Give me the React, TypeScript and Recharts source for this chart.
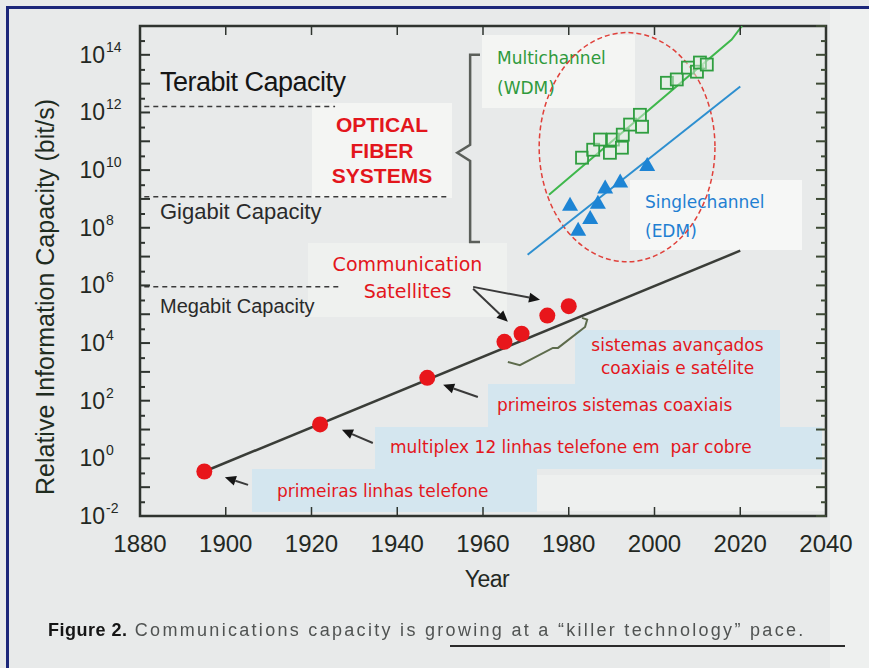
import React from 'react'
import {
  ComposedChart, XAxis, YAxis, Line, Scatter, ReferenceLine, ReferenceArea,
} from 'recharts'

// plot frame (chart coords)
const W = 869
const H = 668
const PLOT_LEFT = 140
const PLOT_RIGHT = 826
const PLOT_TOP = 26
const PLOT_BOTTOM = 516

const AXIS_COLOR = '#2f342f'
const TEXT_DARK = '#232823'
const RED = '#e3161c'
const GREEN_TXT = '#2f9a3c'
const BLUE_TXT = '#1f7fd2'
const SANS = '"Liberation Sans", Arial, sans-serif'
const ROUND = '"DejaVu Sans", Verdana, sans-serif'

const yearTicks = [1880, 1900, 1920, 1940, 1960, 1980, 2000, 2020, 2040]
const capacityTicks = [
  0.01, 0.03, 0.1, 0.3, 1, 3, 10, 30, 1e2, 3e2, 1e3, 3e3, 1e4, 3e4, 1e5, 3e5,
  1e6, 3e6, 1e7, 3e7, 1e8, 3e8, 1e9, 3e9, 1e10, 3e10, 1e11, 3e11, 1e12, 3e12,
  1e13, 3e13, 1e14, 3e14, 1e15,
]

// copper / coax / satellite systems (red dots)
const copperYears = [1895, 1922, 1947, 1965, 1969, 1975, 1980]
const copperCapacity = [0.35, 15, 620, 1.1e4, 2.1e4, 9e4, 1.9e5]
const copperTrendYears = [1895, 2020]
const copperTrendCapacity = [0.35, 1.6e7]

// single channel fiber (EDM)
const edmYears = [1980.3, 1982.2, 1985, 1986.8, 1988.5, 1992, 1998.3]
const edmCapacity = [6.3e8, 8.5e7, 2.2e8, 7.4e8, 2.5e9, 4e9, 1.5e10]
const edmTrendYears = [1970.4, 2020]
const edmTrendCapacity = [1.15e7, 8e12]

// multichannel fiber (WDM)
const wdmYears = [1983.1, 1985.7, 1987.3, 1989.6, 1990.3, 1992.4, 1992.6, 1994.3, 1996.6, 1997.1, 2002.9, 2005.2, 2007.8, 2009.9, 2010.6, 2012.2]
const wdmCapacity = [2.7e10, 5.1e10, 1.15e11, 4e10, 1.15e11, 6e10, 1.7e11, 3.8e11, 8.3e11, 3.2e11, 1.07e13, 1.4e13, 3.6e13, 2.6e13, 5.4e13, 4.6e13]
const wdmTrendYears = [1975.4, 2018, 2020.4]
const wdmTrendCapacity = [1.4e9, 3.4e14, 1e15]

// capacity thresholds (dashed)
const thresholdNames = ['Terabit', 'Gigabit', 'Megabit']
const thresholdLevels = [1.6e12, 1.2e9, 9e5]
const thresholdEnds = [1925.5, 1951.5, 1926.5]

// annotation arrows: tail -> tip
const arrowTailYears = [1905.2, 1934.3, 1958.8, 1957.7, 1957.7]
const arrowTailCapacity = [0.12, 3.4, 135, 8.9e5, 7.6e5]
const arrowTipYears = [1899.8, 1927.1, 1950.7, 1973.3, 1965.8]
const arrowTipCapacity = [0.22, 9.8, 355, 3.2e5, 5.5e4]

// "{" bracket for optical fiber systems
const braceYears = [1959.3, 1957, 1957, 1954, 1957, 1957, 1959.3]
const braceCapacity = [1e14, 1e14, 7.6e10, 4e10, 2.1e10, 3.2e7, 3.2e7]

// bracket for sistemas avançados
const coaxBracketYears = [1965.8, 1968.6, 1976.3, 1977.5, 1983.8, 1984.3, 1983.1]
const coaxBracketCapacity = [2.2e3, 1.7e3, 6.8e3, 6.8e3, 3.6e4, 6.5e4, 7.5e4]

// fiber cluster outline
const clusterYears = [1973.1, 2014.1]
const clusterCapacity = [6.6e6, 5.9e14]

const zip = (xs: number[], ys: number[]) => xs.map((year, i) => ({ year, value: ys[i] }))

const copperData = zip(copperYears, copperCapacity)
const copperTrend = zip(copperTrendYears, copperTrendCapacity)
const edmData = zip(edmYears, edmCapacity)
const edmTrend = zip(edmTrendYears, edmTrendCapacity)
const wdmData = zip(wdmYears, wdmCapacity)
const wdmTrend = zip(wdmTrendYears, wdmTrendCapacity)
const braceData = zip(braceYears, braceCapacity)
const coaxBracket = zip(coaxBracketYears, coaxBracketCapacity)

const CapacityTick = (props: any) => {
  const { x, y, payload } = props
  const lg = Math.log10(payload.value)
  const exp = Math.round(lg)
  const major = Math.abs(lg - exp) < 0.01
  const len = major ? 10 : 5
  return (
    <g>
      <line x1={x} x2={x + len} y1={y} y2={y} stroke={AXIS_COLOR} strokeWidth={2} />
      <line x1={PLOT_RIGHT} x2={PLOT_RIGHT - len} y1={y} y2={y} stroke="#3d4a35" strokeWidth={2} />
      {major && exp % 2 === 0 && (
        <g fill={TEXT_DARK} fontFamily={SANS}>
          <text x={x - 35} y={y + 8} textAnchor="end" fontSize={23}>10</text>
          <text x={x - 34} y={y - 3} fontSize={14}>{exp}</text>
        </g>
      )}
    </g>
  )
}

const YearTick = (props: any) => {
  const { x, y, payload } = props
  const edge = payload.value === 1880 || payload.value === 2040
  return (
    <g>
      {!edge && <line x1={x} x2={x} y1={PLOT_BOTTOM} y2={PLOT_BOTTOM - 9} stroke={AXIS_COLOR} strokeWidth={1.5} />}
      {!edge && <line x1={x} x2={x} y1={PLOT_TOP} y2={PLOT_TOP + 9} stroke={AXIS_COLOR} strokeWidth={1.5} />}
      <text x={x} y={y + 36} textAnchor="middle" fontSize={24} fontFamily={SANS} fill={TEXT_DARK}>
        {payload.value}
      </text>
    </g>
  )
}

const RedDot = (p: any) => <circle cx={p.cx} cy={p.cy} r={8} fill="#e8161b" />
const BlueTriangle = (p: any) => (
  <path d={`M${p.cx},${p.cy - 8} L${p.cx + 8},${p.cy + 6} L${p.cx - 8},${p.cy + 6} Z`} fill="#1d84d4" />
)
const GreenSquare = (p: any) => (
  <rect x={p.cx - 6} y={p.cy - 6} width={12} height={12} fill="rgba(225,240,225,0.5)" stroke="#2f9e40" strokeWidth={1.8} />
)

const Arrow = (p: any) => {
  const { x1, y1, x2, y2 } = p
  const a = Math.atan2(y2 - y1, x2 - x1)
  const L = 11
  const hw = 5
  const bx = x2 - L * Math.cos(a)
  const by = y2 - L * Math.sin(a)
  const nx = -Math.sin(a) * hw
  const ny = Math.cos(a) * hw
  return (
    <g>
      <line x1={x1} y1={y1} x2={bx} y2={by} stroke="#3a3a3a" strokeWidth={2} />
      <path d={`M${x2},${y2} L${bx + nx},${by + ny} L${bx - nx},${by - ny} Z`} fill="#151515" />
    </g>
  )
}

const ClusterEllipse = (p: any) => (
  <ellipse
    cx={p.x + p.width / 2}
    cy={p.y + p.height / 2}
    rx={Math.abs(p.width) / 2}
    ry={Math.abs(p.height) / 2}
    fill="none"
    stroke="#e0403a"
    strokeWidth={1.5}
    strokeDasharray="5 3"
  />
)

const box = (left: number, top: number, width: number, height: number, bg: string): React.CSSProperties => ({
  position: 'absolute', left, top, width, height, background: bg,
})

const label = (left: number, top: number, extra: React.CSSProperties): React.CSSProperties => ({
  position: 'absolute', left, top, whiteSpace: 'nowrap', ...extra,
})

const WHITE_BOX = '#f4f5f3'
const BLUE_BOX = '#d4e6ef'

export default function App() {
  return (
    <div style={{ position: 'absolute', left: 0, top: 0, width: W, height: H, background: '#e8eaea', overflow: 'hidden' }}>
      {/* scan frame */}
      <div style={{ position: 'absolute', left: 6, top: 6, width: W, height: H, borderTop: '3px solid #1c2779', borderLeft: '3px solid #1c2779' }} />
      <div style={box(830, 9, 39, 659, '#eef0ef')} />

      {/* label boxes, under the chart */}
      <div style={box(312, 103, 140, 95, WHITE_BOX)} />
      <div style={box(482, 35, 153, 73, WHITE_BOX)} />
      <div style={box(630, 180, 172, 70, '#f6f7f6')} />
      <div style={box(308, 243, 199, 74, '#eff1ef')} />
      <div style={box(575, 330, 205, 54, BLUE_BOX)} />
      <div style={box(488, 384, 292, 43, BLUE_BOX)} />
      <div style={box(375, 427, 447, 42, BLUE_BOX)} />
      <div style={box(252, 469, 285, 43, BLUE_BOX)} />
      <div style={box(537, 475, 288, 36, '#eef0ef')} />

      <div style={label(160, 67, { fontFamily: SANS, fontSize: 27, color: '#151515', letterSpacing: -0.5 })}>Terabit Capacity</div>
      <div style={label(160, 199, { fontFamily: SANS, fontSize: 22, color: '#2a2a2a' })}>Gigabit Capacity</div>
      <div style={label(160, 295, { fontFamily: SANS, fontSize: 20, color: '#2a2a2a' })}>Megabit Capacity</div>

      <div style={label(312, 112, { width: 140, textAlign: 'center', fontFamily: SANS, fontWeight: 700, fontSize: 21, lineHeight: '25.5px', color: RED })}>
        OPTICAL<br />FIBER<br />SYSTEMS
      </div>
      <div style={label(497, 43, { fontFamily: ROUND, fontSize: 17, lineHeight: '30px', color: GREEN_TXT })}>
        Multichannel<br />(WDM)
      </div>
      <div style={label(645, 188, { fontFamily: ROUND, fontSize: 17, lineHeight: '29px', color: BLUE_TXT })}>
        Singlechannel<br />(EDM)
      </div>
      <div style={label(308, 251, { width: 199, textAlign: 'center', fontFamily: ROUND, fontSize: 19, lineHeight: '27px', color: RED })}>
        Communication<br />Satellites
      </div>
      <div style={label(575, 334, { width: 205, textAlign: 'center', fontFamily: ROUND, fontSize: 17, lineHeight: '23px', color: RED })}>
        sistemas avançados<br />coaxiais e satélite
      </div>
      <div style={label(497, 393, { fontFamily: ROUND, fontSize: 17, lineHeight: '24px', color: RED })}>primeiros sistemas coaxiais</div>
      <div style={label(390, 435, { fontFamily: ROUND, fontSize: 17, lineHeight: '24px', color: RED, whiteSpace: 'pre' })}>multiplex 12 linhas telefone em  par cobre</div>
      <div style={label(277, 479, { fontFamily: ROUND, fontSize: 17, lineHeight: '24px', color: RED })}>primeiras linhas telefone</div>

      {/* axis titles */}
      <div style={label(45, 297, { fontFamily: SANS, fontSize: 25, color: '#1f2c1f', transform: 'translate(-50%, -50%) rotate(-90deg)' })}>
        Relative Information Capacity (bit/s)
      </div>
      <div style={label(487, 566, { fontFamily: SANS, fontSize: 23, color: TEXT_DARK, transform: 'translateX(-50%)', letterSpacing: -0.5 })}>Year</div>

      {/* caption */}
      <div style={label(48, 620, { fontFamily: SANS, fontSize: 18, color: '#505352', letterSpacing: 2.3, filter: 'blur(0.6px)' })}>
        <span style={{ color: '#151515', fontWeight: 700, letterSpacing: 0.5 }}>Figure 2.</span> Communications capacity is growing at a “killer technology” pace.
      </div>
      <div style={box(450, 645, 395, 2, '#2b2b2b')} />

      <div style={{ position: 'absolute', left: 0, top: 0 }}>
        <ComposedChart
          width={W}
          height={H}
          margin={{ top: PLOT_TOP, right: W - PLOT_RIGHT, bottom: H - PLOT_BOTTOM - 1, left: PLOT_LEFT - 1 }}
        >
          <XAxis
            dataKey="year"
            type="number"
            domain={[1880, 2040]}
            allowDataOverflow
            ticks={yearTicks}
            interval={0}
            height={1}
            tickSize={0}
            tickMargin={0}
            tickLine={false}
            axisLine={false}
            tick={<YearTick />}
          />
          <YAxis
            type="number"
            scale="log"
            domain={[0.01, 1e15]}
            allowDataOverflow
            ticks={capacityTicks}
            interval={0}
            width={1}
            tickSize={0}
            tickMargin={0}
            tickLine={false}
            axisLine={false}
            tick={<CapacityTick />}
          />

          {thresholdLevels.map((lvl, i) => (
            <ReferenceLine
              key={thresholdNames[i]}
              segment={[{ x: 1881, y: lvl }, { x: thresholdEnds[i], y: lvl }]}
              stroke="#3a3a3a"
              strokeWidth={1.5}
              strokeDasharray="5 4"
            />
          ))}

          <ReferenceArea
            x1={clusterYears[0]} x2={clusterYears[1]}
            y1={clusterCapacity[0]} y2={clusterCapacity[1]}
            shape={ClusterEllipse}
          />

          <Line data={braceData} dataKey="value" type="linear" stroke="#5b5f5a" strokeWidth={2.5} dot={false} isAnimationActive={false} />
          <Line data={coaxBracket} dataKey="value" type="linear" stroke="#5d6b4c" strokeWidth={2} dot={false} isAnimationActive={false} />

          <Line data={copperTrend} dataKey="value" type="linear" stroke="#3a3d38" strokeWidth={2.5} dot={false} isAnimationActive={false} />
          <Line data={edmTrend} dataKey="value" type="linear" stroke="#2d8fd0" strokeWidth={2} dot={false} isAnimationActive={false} />
          <Line data={wdmTrend} dataKey="value" type="linear" stroke="#3fb84c" strokeWidth={2} dot={false} isAnimationActive={false} />

          <Scatter data={wdmData} dataKey="value" shape={GreenSquare} isAnimationActive={false} />
          <Scatter data={edmData} dataKey="value" shape={BlueTriangle} isAnimationActive={false} />
          <Scatter data={copperData} dataKey="value" shape={RedDot} isAnimationActive={false} />

          {arrowTailYears.map((ty, i) => (
            <ReferenceLine
              key={`arrow-${i}`}
              segment={[{ x: ty, y: arrowTailCapacity[i] }, { x: arrowTipYears[i], y: arrowTipCapacity[i] }]}
              shape={Arrow}
            />
          ))}

          {/* plot frame */}
          <ReferenceArea x1={1880} x2={2040} y1={0.01} y2={1e15} fill="none" fillOpacity={0} stroke={AXIS_COLOR} strokeWidth={2.5} />
        </ComposedChart>
      </div>
    </div>
  )
}
